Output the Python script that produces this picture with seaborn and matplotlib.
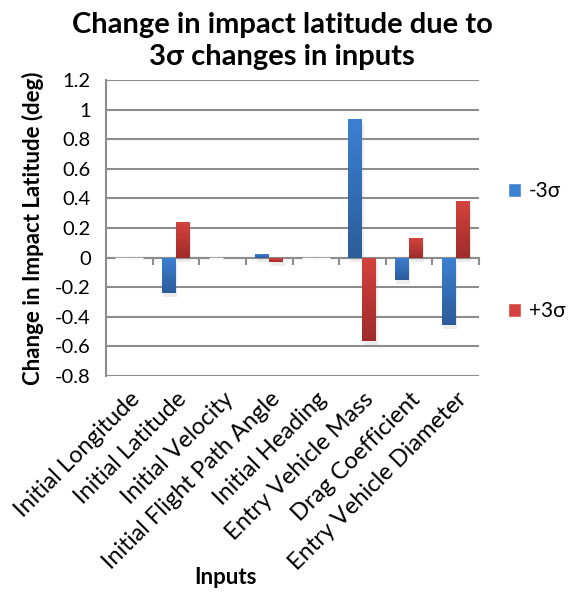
import numpy as np
import pandas as pd
import matplotlib
matplotlib.use("Agg")
import matplotlib.pyplot as plt
import matplotlib.patheffects as pe
from matplotlib.colors import LinearSegmentedColormap
from matplotlib.patches import Rectangle
import seaborn as sns

# Inputs and the resulting change in impact latitude (deg)
categories = ["Initial Longitude", "Initial Latitude", "Initial Velocity",
              "Initial Flight Path Angle", "Initial Heading", "Entry Vehicle Mass",
              "Drag Coefficient", "Entry Vehicle Diameter"]
minus_3sigma = [0.0, -0.24, 0.0, 0.025, 0.0, 0.937, -0.149, -0.455]
plus_3sigma = [0.0, 0.24, -0.002, -0.027, 0.0, -0.561, 0.133, 0.383]
series_names = ["-3σ", "+3σ"]
y_ticks = [1.2, 1, 0.8, 0.6, 0.4, 0.2, 0, -0.2, -0.4, -0.6, -0.8]

df = pd.DataFrame({
    "Input": categories * 2,
    "Change": minus_3sigma + plus_3sigma,
    "Case": [series_names[0]] * len(categories) + [series_names[1]] * len(categories),
})

sns.set_style("white")
plt.rcParams["font.family"] = ["Lato", "DejaVu Sans"]
plt.rcParams["text.color"] = "black"
plt.rcParams["axes.labelcolor"] = "black"
plt.rcParams["xtick.labelcolor"] = "black"
plt.rcParams["ytick.labelcolor"] = "black"

grid_col = "#8c8c8c"
blue_top, blue_bot = "#3c80d2", "#2c5c9a"
red_top, red_bot = "#d4433d", "#9e2c2a"

fig = plt.figure(figsize=(5.74, 5.92), dpi=100)
ax = fig.add_axes([106 / 574, 1 - 376 / 592, (479 - 106) / 574, (376 - 80) / 592])

sns.barplot(data=df, x="Input", y="Change", hue="Case", order=categories,
            hue_order=series_names, palette=[blue_top, red_top], width=0.6,
            gap=0, ax=ax, legend=False, saturation=1)

ax.set_ylim(-0.8, 1.2)
ax.set_xlim(-0.5, len(categories) - 0.5)
ax.set_yticks(y_ticks)
ax.set_yticklabels(["%g" % t for t in y_ticks], fontsize=14.5)
ax.yaxis.grid(True, color=grid_col, linewidth=1.5)
ax.set_axisbelow(True)

for side in ["top", "right", "bottom"]:
    ax.spines[side].set_visible(False)
ax.spines["left"].set_color(grid_col)
ax.spines["left"].set_linewidth(1.5)
ax.tick_params(axis="y", direction="out", length=5, width=1.5, color=grid_col, pad=6)
ax.tick_params(axis="x", length=0, pad=9)
ax.set_xticks(range(len(categories)))
ax.set_xticklabels(categories, rotation=45, ha="right", rotation_mode="anchor", fontsize=17)

# category axis through zero with boundary ticks
zero_frac = (0 - (-0.8)) / (1.2 - (-0.8))
sec = ax.secondary_xaxis(zero_frac)
sec.set_xticks(np.arange(0.5, len(categories), 1.0))
sec.set_xticklabels([])
sec.tick_params(direction="out", length=5, width=1.5, color=grid_col)
sec.spines["bottom"].set_color(grid_col)
sec.spines["bottom"].set_linewidth(1.5)
for s in ["top", "left", "right"]:
    sec.spines[s].set_visible(False)

ax.set_xlabel("")
ax.set_ylabel("Change in Impact Latitude (deg)", fontsize=16, fontweight="bold", labelpad=8)
fig.text(225 / 574, 1 - 577 / 592, "Inputs", ha="center", va="center",
         fontsize=16, fontweight="bold")

# vertical gradient fill with soft shadow on each bar
grad = np.linspace(0, 1, 64).reshape(-1, 1)
cmaps = {
    blue_top: LinearSegmentedColormap.from_list("b", [blue_top, blue_bot]),
    red_top: LinearSegmentedColormap.from_list("r", [red_top, red_bot]),
}
for i, patch in enumerate(list(ax.patches)):
    h = patch.get_height()
    if abs(h) < 1e-9:
        continue
    col = blue_top if i < len(categories) else red_top
    x0, y0 = patch.get_x(), patch.get_y()
    w = patch.get_width()
    top, bot = max(y0, y0 + h), min(y0, y0 + h)
    patch.set_facecolor("none")
    patch.set_edgecolor("none")
    patch.set_path_effects([pe.SimplePatchShadow(offset=(1, -3), shadow_rgbFace="#9a9a9a", alpha=0.18)])
    im = ax.imshow(grad, cmap=cmaps[col], aspect="auto", extent=(x0, x0 + w, bot, top),
                   origin="upper", zorder=3, interpolation="bilinear")
    im.set_clip_path(patch)
ax.set_xlim(-0.5, len(categories) - 0.5)
ax.set_ylim(-0.8, 1.2)

# legend
handles = [Rectangle((0, 0), 1, 1, facecolor=blue_top), Rectangle((0, 0), 1, 1, facecolor=red_top)]
fig.legend(handles, series_names, loc="upper left", bbox_to_anchor=(500 / 574, 1 - 173 / 592),
           frameon=False, fontsize=15, handlelength=0.6, handleheight=0.6,
           handletextpad=0.4, labelspacing=4.8, borderaxespad=0)

fig.text(282 / 574, 1 - 41 / 592, "Change in impact latitude due to\n3σ changes in inputs",
         ha="center", va="center", fontsize=21, fontweight="bold", linespacing=1.3)

fig.savefig("out.png", dpi=100)
